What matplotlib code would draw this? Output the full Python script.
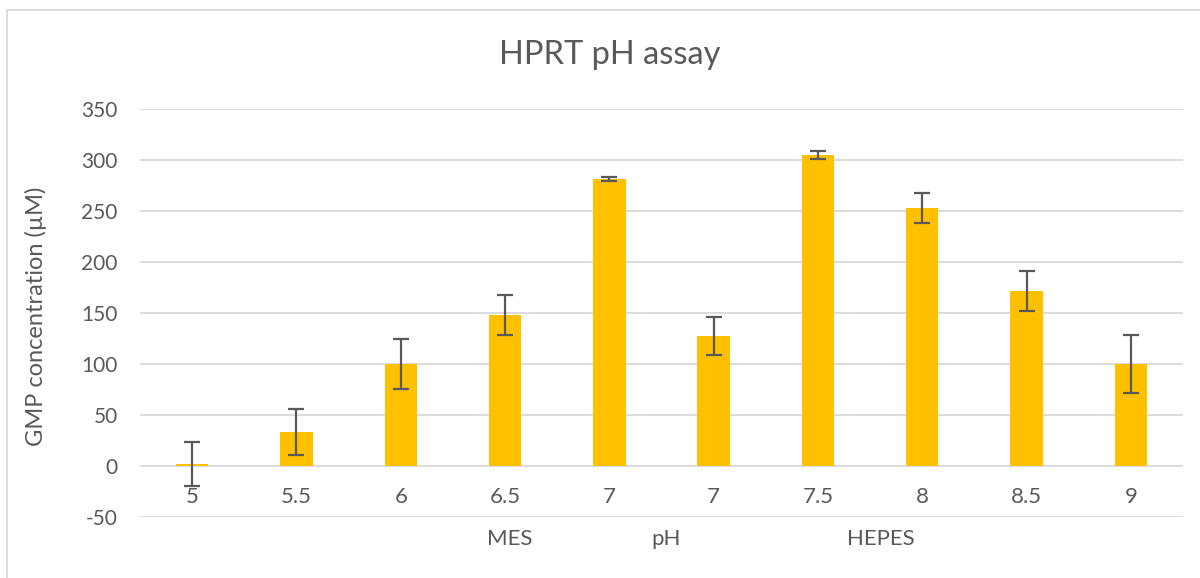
import matplotlib.pyplot as plt
from matplotlib.patches import Rectangle

plt.rcParams['font.family'] = ['Lato', 'DejaVu Sans']
plt.rcParams['axes.unicode_minus'] = False

ph_labels = ["5", "5.5", "6", "6.5", "7", "7", "7.5", "8", "8.5", "9"]
gmp = [2, 33, 100, 148, 281, 127.5, 304.5, 253, 171.5, 100]
gmp_err = [22, 22.5, 24.5, 19.5, 2, 19, 4, 15, 20, 28.5]
buffer_labels = ["MES", "pH", "HEPES"]
buffer_pos = [3.04, 4.54, 6.6]

grey = "#595959"

fig = plt.figure(figsize=(12, 5.78), dpi=100)
ax = fig.add_axes([140 / 1200, 1 - 517 / 578, (1183 - 140) / 1200, (517 - 109) / 578])

x = range(len(gmp))
ax.bar(x, gmp, width=0.31, color="#FFC000", zorder=2)
ax.errorbar(x, gmp, yerr=gmp_err, fmt="none", ecolor=grey, elinewidth=1.6,
            capsize=6, capthick=1.6, zorder=3)

ax.set_xlim(-0.5, len(gmp) - 0.5)
ax.set_ylim(-50, 350)
ax.set_yticks(range(-50, 351, 50))
ax.grid(axis="y", color="#D9D9D9", linewidth=1.3, zorder=0)
for s in ax.spines.values():
    s.set_visible(False)
ax.tick_params(length=0, labelsize=15, colors=grey)
ax.tick_params(axis="y", pad=16)
ax.set_xticks(list(x))
ax.set_xticklabels([])
for i, lab in enumerate(ph_labels):
    ax.text(i, -30, lab, ha="center", va="center", fontsize=16, color=grey)
for p, lab in zip(buffer_pos, buffer_labels):
    ax.text(p, -72, lab, ha="center", va="center", fontsize=16, color=grey)

fig.text(0.508, 1 - 55 / 578, "HPRT pH assay", ha="center", va="center",
         fontsize=23.5, color=grey)
fig.text(36 / 1200, 1 - 316 / 578, "GMP concentration (µM)", rotation=90,
         ha="center", va="center", fontsize=17, color=grey)

# chart area frame
fig.patches.append(Rectangle((7 / 1200, -0.1), 1.2, 1 - 10 / 578 + 0.1,
                             transform=fig.transFigure, fill=False,
                             edgecolor="#D9D9D9", linewidth=1.3))

fig.savefig("out.png", dpi=100)
